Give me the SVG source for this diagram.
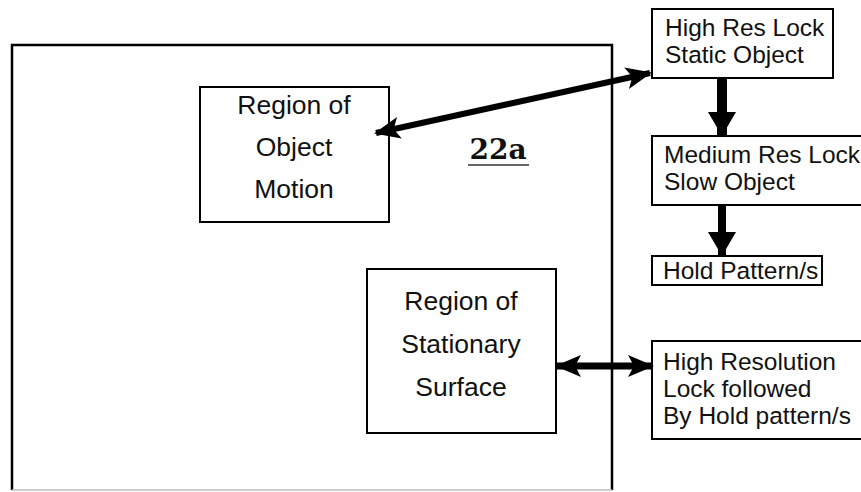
<svg xmlns="http://www.w3.org/2000/svg" width="861" height="492" viewBox="0 0 861 492">
<defs>
<style>
.box{fill:#fff;stroke:#000;stroke-width:2}
.t{font-family:"Liberation Sans",Arial,sans-serif;font-size:26.5px;fill:#111}
.c{text-anchor:middle}
.s{font-family:"Liberation Sans",Arial,sans-serif;font-size:24.5px;fill:#111}
.ln{stroke:#000;fill:none}
</style>
<marker id="ah" markerUnits="userSpaceOnUse" markerWidth="26" markerHeight="26" viewBox="0 0 26 26" refX="24" refY="13" orient="auto-start-reverse">
<path d="M0,2 L26,13 L0,24 L6,13 Z" fill="#000"/>
</marker>
<marker id="dh" markerUnits="userSpaceOnUse" markerWidth="28" markerHeight="30" viewBox="0 0 28 30" refX="24" refY="15" orient="auto">
<path d="M0,1 L24,15 L0,29 Z" fill="#000"/>
</marker>
</defs>
<rect width="861" height="492" fill="#fff"/>
<g id="frame">
<path d="M12,490 V45 H612 V490" class="ln" stroke-width="2.5"/>
<line x1="12" y1="490" x2="612" y2="490" stroke="#bbb" stroke-width="1.5"/>
</g>
<g id="label22a">
<text x="498" y="159" text-anchor="middle" font-family="'DejaVu Serif','Liberation Serif',serif" font-weight="bold" font-size="28" fill="#111">22a</text>
<line x1="468" y1="165" x2="529" y2="165" stroke="#333" stroke-width="1.5"/>
</g>
<g id="motion">
<rect class="box" x="200" y="87" width="189" height="135"/>
<text class="t c" x="294" y="114">Region of</text>
<text class="t c" x="294" y="156">Object</text>
<text class="t c" x="294" y="198">Motion</text>
</g>
<g id="stationary">
<rect class="box" x="367" y="269" width="189" height="164"/>
<text class="t c" x="461" y="310">Region of</text>
<text class="t c" x="461" y="353">Stationary</text>
<text class="t c" x="461" y="396">Surface</text>
</g>
<g id="highres">
<rect class="box" x="652" y="9" width="181" height="69"/>
<text class="s" x="665" y="36">High Res Lock</text>
<text class="s" x="665" y="63">Static Object</text>
</g>
<g id="medres">
<rect class="box" x="652" y="136" width="212" height="69"/>
<text class="s" x="664" y="163">Medium Res Lock</text>
<text class="s" x="664" y="190">Slow Object</text>
</g>
<g id="hold">
<rect class="box" x="652" y="256" width="170" height="29"/>
<text class="s" x="663" y="279">Hold Pattern/s</text>
</g>
<g id="highreshold">
<rect class="box" x="652" y="341" width="212" height="98"/>
<text class="s" x="663" y="370">High Resolution</text>
<text class="s" x="663" y="397">Lock followed</text>
<text class="s" x="663" y="424">By Hold pattern/s</text>
</g>
<g id="connectors">
<line x1="376" y1="133" x2="650" y2="73" stroke="#000" stroke-width="6" marker-start="url(#ah)" marker-end="url(#ah)"/>
<line x1="722" y1="78" x2="722" y2="136" stroke="#000" stroke-width="10" marker-end="url(#dh)"/>
<line x1="722" y1="205" x2="722" y2="256" stroke="#000" stroke-width="8" marker-end="url(#dh)"/>
<line x1="557" y1="366" x2="652" y2="366" stroke="#000" stroke-width="7" marker-start="url(#ah)" marker-end="url(#ah)"/>
</g>
</svg>
